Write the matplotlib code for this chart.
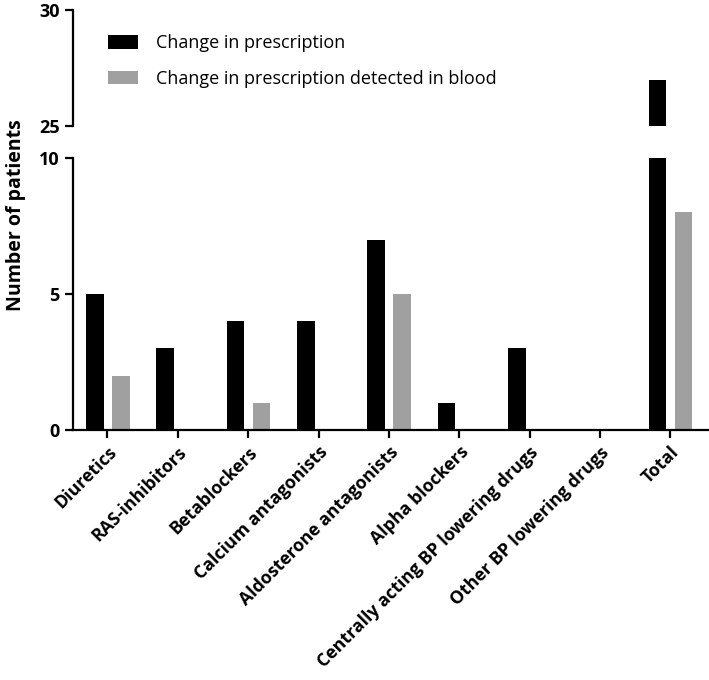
import matplotlib
matplotlib.use("Agg")
from matplotlib import pyplot as plt
import numpy as np

plt.rcParams['font.family'] = ['Open Sans', 'DejaVu Sans']

categories = ['Diuretics', 'RAS-inhibitors', 'Betablockers', 'Calcium antagonists',
              'Aldosterone antagonists', 'Alpha blockers',
              'Centrally acting BP lowering drugs', 'Other BP lowering drugs', 'Total']
changed = [5, 3, 4, 4, 7, 1, 3, 0, 27]
detected = [2, 0, 1, 0, 5, 0, 0, 0, 8]
series_names = ['Change in prescription', 'Change in prescription detected in blood']

fig = plt.figure(figsize=[7.09, 6.8], dpi=100)
low = fig.add_axes([0.103, 0.3676, 0.897, 0.40])
high = fig.add_axes([0.103, 0.8147, 0.897, 0.1706])

x = np.arange(len(categories))
w = 0.25
for ax in (low, high):
    ax.bar(x - 0.18, changed, w, color='black', label=series_names[0])
    ax.bar(x + 0.19, detected, w, color='#a0a0a0', label=series_names[1])
    ax.set_xlim(-0.49, 8.55)
    for s in ('top', 'right'):
        ax.spines[s].set_visible(False)
    for s in ('left', 'bottom'):
        ax.spines[s].set_linewidth(1.6)
    ax.tick_params(width=1.6, length=6, labelsize=13)

low.set_ylim(0, 10)
low.set_yticks([0, 5, 10])
low.set_yticklabels(['0', '5', '10'], fontweight='bold', fontsize=13)
low.set_xticks(x)
low.set_xticklabels(categories, rotation=45, ha='right', rotation_mode='anchor',
                    fontsize=12.8, fontweight='bold')

high.set_ylim(25, 30)
high.set_yticks([25, 30])
high.set_yticklabels(['25', '30'], fontweight='bold', fontsize=13)
high.spines['bottom'].set_visible(False)
high.set_xticks([])

high.legend(loc='upper left', bbox_to_anchor=(0.03, 0.93), frameon=False,
            fontsize=13, handlelength=1.65, handleheight=0.75, labelspacing=0.95,
            handletextpad=1.0)

fig.text(0.022, 0.683, 'Number of patients', rotation=90, va='center', ha='center',
         fontsize=14, fontweight='bold')

fig.savefig('out.png', dpi=100)
